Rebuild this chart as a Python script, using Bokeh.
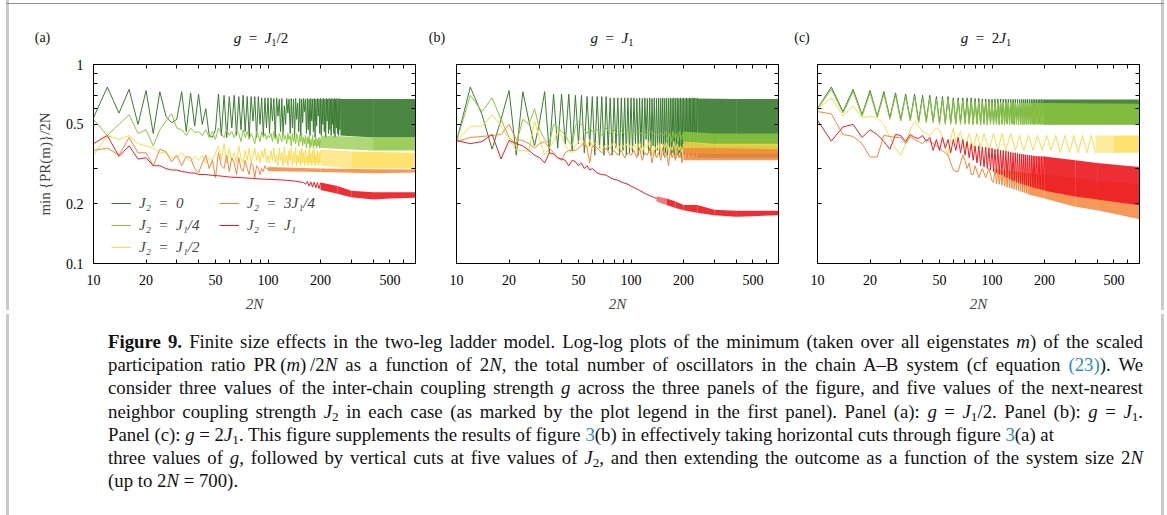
from bokeh.plotting import figure
from bokeh.models import (ColumnDataSource, FixedTicker, LogAxis, Legend,
                          LegendItem, Div, CustomJSTickFormatter)
from bokeh.layouts import row, column
from bokeh.embed import file_html
from bokeh.resources import INLINE

# ---------------------------------------------------------------- data
# x = 2N (system size), y = min{PR(m)}/2N.  Each series: a line through the
# resolved points, and a (lo, hi) envelope where the oscillation is too dense
# to resolve individually.

EVEN_10_100 = list(range(10, 101, 2))
EVEN_10_60 = list(range(10, 61, 2))
EVEN_10_80 = list(range(10, 81, 2))

# ---- panel (a): g = J1/2
A_J0_N = EVEN_10_100 + list(range(102, 261, 2))
A_J0_V = [0.54, 0.77, 0.57, 0.75, 0.50, 0.74, 0.45, 0.73, 0.55, 0.51,
          0.53, 0.73, 0.46, 0.72, 0.49, 0.71, 0.50, 0.60, 0.44, 0.43,
          0.47, 0.71, 0.44, 0.70, 0.43, 0.69, 0.48, 0.70, 0.44, 0.69,
          0.47, 0.70, 0.46, 0.69, 0.43, 0.69, 0.52, 0.69, 0.43, 0.69,
          0.50, 0.68, 0.44, 0.68, 0.48, 0.68,
          0.45, 0.68, 0.52, 0.675, 0.43, 0.68, 0.55, 0.67, 0.46, 0.675,
          0.44, 0.62, 0.50, 0.675, 0.57, 0.67, 0.45, 0.675, 0.48, 0.67,
          0.43, 0.675, 0.53, 0.64, 0.46, 0.675, 0.44, 0.67, 0.51, 0.675,
          0.58, 0.67, 0.45, 0.675, 0.47, 0.67, 0.44, 0.675, 0.52, 0.67,
          0.46, 0.675, 0.43, 0.67, 0.49, 0.675, 0.55, 0.67, 0.45, 0.675,
          0.44, 0.67, 0.50, 0.675, 0.46, 0.67, 0.43, 0.675, 0.52, 0.67,
          0.45, 0.675, 0.47, 0.67, 0.44, 0.675, 0.50, 0.67, 0.45, 0.675,
          0.43, 0.67, 0.48, 0.675, 0.45, 0.67, 0.44, 0.675, 0.47, 0.67]
A_J0_BN = [260, 400, 700]
A_J0_BLO = [0.44, 0.43, 0.43]
A_J0_BHI = [0.67, 0.67, 0.67]

A_J14_N = EVEN_10_100 + list(range(102, 201, 2))
A_J14_V = [0.53, 0.44, 0.50, 0.56, 0.45, 0.47, 0.39, 0.47, 0.52, 0.565,
           0.48, 0.47, 0.44, 0.48, 0.455, 0.46, 0.44, 0.47, 0.43, 0.46,
           0.42, 0.48, 0.45, 0.43, 0.47, 0.44, 0.46, 0.43, 0.47, 0.45,
           0.41, 0.47, 0.43, 0.46, 0.42, 0.45, 0.43, 0.40, 0.46, 0.44,
           0.41, 0.46, 0.43, 0.45, 0.42, 0.44,
           0.43, 0.45, 0.41, 0.46, 0.42, 0.44, 0.40, 0.45, 0.43, 0.41,
           0.46, 0.42, 0.44, 0.40, 0.45, 0.42, 0.44, 0.39, 0.45, 0.41,
           0.44, 0.40, 0.45, 0.42, 0.39, 0.44, 0.41, 0.45, 0.39, 0.43,
           0.40, 0.44, 0.38, 0.43, 0.40, 0.44, 0.38, 0.42, 0.39, 0.44,
           0.38, 0.42, 0.39, 0.43, 0.38, 0.42, 0.39, 0.43, 0.38, 0.42]
A_J14_BN = [200, 400, 700]
A_J14_BLO = [0.38, 0.37, 0.37]
A_J14_BHI = [0.44, 0.43, 0.43]

A_J12_N = EVEN_10_100 + list(range(102, 201, 2))
A_J12_V = [0.35, 0.44, 0.42, 0.44, 0.40, 0.39, 0.38, 0.36, 0.36, 0.34,
           0.34, 0.36, 0.34, 0.325, 0.345, 0.33, 0.35, 0.32, 0.34, 0.33,
           0.36, 0.39, 0.33, 0.40, 0.32, 0.38, 0.33, 0.36, 0.32, 0.39,
           0.34, 0.32, 0.37, 0.33, 0.38, 0.32, 0.35, 0.38, 0.33, 0.36,
           0.32, 0.37, 0.34, 0.38, 0.32, 0.35,
           0.32, 0.37, 0.33, 0.38, 0.32, 0.35, 0.31, 0.38, 0.33, 0.36,
           0.31, 0.385, 0.32, 0.35, 0.31, 0.37, 0.33, 0.38, 0.31, 0.36,
           0.32, 0.385, 0.31, 0.35, 0.32, 0.37, 0.31, 0.38, 0.32, 0.36,
           0.31, 0.375, 0.32, 0.35, 0.31, 0.38, 0.32, 0.36, 0.31, 0.37,
           0.32, 0.38, 0.31, 0.35, 0.32, 0.37, 0.31, 0.36, 0.32, 0.37]
A_J12_BN = [200, 300, 700]
A_J12_BLO = [0.31, 0.30, 0.30]
A_J12_BHI = [0.375, 0.365, 0.36]

A_J34_N = EVEN_10_100
A_J34_V = [0.37, 0.38, 0.35, 0.43, 0.36, 0.36, 0.31, 0.375, 0.365, 0.325,
           0.35, 0.31, 0.345, 0.34, 0.30, 0.285, 0.32, 0.35, 0.30, 0.33,
           0.27, 0.36, 0.31, 0.30, 0.35, 0.29, 0.34, 0.32, 0.28, 0.34,
           0.30, 0.29, 0.33, 0.30, 0.28, 0.32, 0.31, 0.27, 0.31, 0.30,
           0.28, 0.30, 0.29, 0.31, 0.30, 0.30]
A_J34_BN = [100, 200, 400, 700]
A_J34_BLO = [0.292, 0.288, 0.284, 0.287]
A_J34_BHI = [0.305, 0.300, 0.298, 0.297]

A_J1_N = (list(range(10, 41, 2)) + [44, 48, 52, 56, 60, 70, 80, 90, 100, 120, 140, 160]
          + list(range(164, 201, 4)))
A_J1_V = [0.40, 0.44, 0.345, 0.39, 0.335, 0.34, 0.31, 0.31, 0.30, 0.295,
          0.295, 0.29, 0.288, 0.285, 0.285, 0.28, 0.28, 0.277, 0.276, 0.274,
          0.272, 0.27, 0.268, 0.266, 0.265, 0.263, 0.26, 0.255,
          0.25, 0.258, 0.245, 0.257, 0.242, 0.256, 0.24, 0.255, 0.238, 0.254]
A_J1_BN = [200, 250, 300, 400, 500, 700]
A_J1_BLO = [0.234, 0.224, 0.215, 0.21, 0.212, 0.214]
A_J1_BHI = [0.255, 0.245, 0.232, 0.228, 0.228, 0.228]

# ---- panel (b): g = J1
B_J0_N = EVEN_10_100 + list(range(102, 241, 2))
B_J0_V = [0.41, 0.77, 0.56, 0.375, 0.53, 0.74, 0.35, 0.73, 0.52, 0.39,
          0.52, 0.73, 0.36, 0.71, 0.38, 0.71, 0.40, 0.71, 0.37, 0.70,
          0.40, 0.70, 0.36, 0.69, 0.39, 0.69, 0.35, 0.69, 0.38, 0.69,
          0.35, 0.69, 0.37, 0.68, 0.35, 0.68, 0.38, 0.68, 0.35, 0.68,
          0.37, 0.68, 0.35, 0.68, 0.36, 0.68,
          0.36, 0.68, 0.40, 0.675, 0.35, 0.68, 0.38, 0.675, 0.35, 0.68,
          0.42, 0.675, 0.36, 0.68, 0.35, 0.675, 0.39, 0.68, 0.35, 0.675,
          0.37, 0.68, 0.35, 0.675, 0.40, 0.68, 0.35, 0.675, 0.36, 0.68,
          0.35, 0.675, 0.38, 0.68, 0.35, 0.675, 0.36, 0.68, 0.34, 0.675,
          0.37, 0.68, 0.35, 0.675, 0.36, 0.68, 0.34, 0.675, 0.37, 0.68,
          0.35, 0.675, 0.36, 0.68, 0.34, 0.675, 0.36, 0.68, 0.35, 0.675,
          0.34, 0.68, 0.36, 0.675, 0.35, 0.68, 0.34, 0.675, 0.36, 0.68]
B_J0_BN = [240, 400, 700]
B_J0_BLO = [0.34, 0.34, 0.34]
B_J0_BHI = [0.675, 0.67, 0.67]

B_J14_N = (EVEN_10_60 + [64, 68, 72, 76, 80, 84, 88, 92, 96, 100, 110, 120, 130, 140, 150]
           + list(range(154, 199, 4)))
B_J14_V = [0.41, 0.70, 0.58, 0.68, 0.53, 0.43, 0.40, 0.53, 0.50, 0.60,
           0.47, 0.42, 0.40, 0.50, 0.48, 0.46, 0.44, 0.41, 0.39, 0.49,
           0.52, 0.50, 0.47, 0.45, 0.48, 0.46,
           0.47, 0.44, 0.48, 0.45, 0.47, 0.44, 0.46, 0.45, 0.47, 0.45,
           0.46, 0.44, 0.46, 0.44, 0.45,
           0.44, 0.46, 0.42, 0.45, 0.41, 0.46, 0.43, 0.45, 0.41, 0.46, 0.42, 0.45]
B_J14_BN = [198, 300, 700]
B_J14_BLO = [0.41, 0.39, 0.39]
B_J14_BHI = [0.46, 0.45, 0.45]

B_J12_N = EVEN_10_60 + [64, 68, 72, 76, 80, 84, 88, 92, 96, 100] + list(range(104, 201, 4))
B_J12_V = [0.41, 0.49, 0.49, 0.56, 0.49, 0.42, 0.37, 0.37, 0.365, 0.52,
           0.42, 0.35, 0.38, 0.41, 0.46, 0.44, 0.39, 0.37, 0.36, 0.39,
           0.41, 0.43, 0.40, 0.38, 0.42, 0.39,
           0.41, 0.37, 0.40, 0.38, 0.41, 0.37, 0.40, 0.38, 0.41, 0.37,
           0.40, 0.37, 0.41, 0.36, 0.40, 0.38, 0.42, 0.36, 0.39, 0.37,
           0.41, 0.36, 0.40, 0.38, 0.41, 0.36, 0.39, 0.37, 0.41, 0.36,
           0.40, 0.37, 0.39, 0.36, 0.40]
B_J12_BN = [200, 300, 700]
B_J12_BLO = [0.36, 0.355, 0.355]
B_J12_BHI = [0.41, 0.40, 0.40]

B_J34_N = EVEN_10_60 + [64, 68, 72, 76, 80, 84, 88, 92, 96, 100] + list(range(104, 201, 4))
B_J34_V = [0.41, 0.43, 0.435, 0.44, 0.445, 0.50, 0.42, 0.415, 0.40, 0.38,
           0.40, 0.41, 0.38, 0.36, 0.34, 0.33, 0.36, 0.37, 0.37, 0.37,
           0.38, 0.39, 0.41, 0.38, 0.32, 0.39,
           0.38, 0.36, 0.38, 0.35, 0.37, 0.35, 0.37, 0.34, 0.36, 0.35,
           0.37, 0.34, 0.38, 0.33, 0.36, 0.35, 0.38, 0.32, 0.37, 0.34,
           0.36, 0.33, 0.38, 0.34, 0.36, 0.31, 0.37, 0.34, 0.36, 0.33,
           0.37, 0.34, 0.36, 0.32, 0.37]
B_J34_BN = [200, 300, 700]
B_J34_BLO = [0.33, 0.33, 0.33]
B_J34_BHI = [0.38, 0.38, 0.375]

B_J1_N = EVEN_10_60 + [64, 68, 72, 76, 80, 84, 90, 96, 100, 110, 120, 130, 140]
B_J1_V = [0.415, 0.40, 0.41, 0.445, 0.335, 0.415, 0.40, 0.39, 0.37, 0.35,
          0.34, 0.32, 0.36, 0.355, 0.34, 0.335, 0.33, 0.31, 0.33, 0.325,
          0.31, 0.32, 0.30, 0.31, 0.295, 0.30,
          0.285, 0.28, 0.278, 0.27, 0.265, 0.262, 0.255, 0.25, 0.245, 0.235,
          0.225, 0.218, 0.212]
B_J1_BN = [140, 160, 180, 200, 240, 300, 400, 500, 700]
B_J1_BLO = [0.205, 0.197, 0.19, 0.185, 0.18, 0.175, 0.172, 0.173, 0.175]
B_J1_BHI = [0.218, 0.212, 0.205, 0.197, 0.197, 0.186, 0.184, 0.184, 0.184]

# ---- panel (c): g = 2 J1
C_J0_N = EVEN_10_80 + list(range(82, 201, 2))
C_J0_V = [0.60, 0.77, 0.58, 0.75, 0.56, 0.74, 0.55, 0.73, 0.54, 0.72,
          0.53, 0.71, 0.53, 0.71, 0.52, 0.70, 0.52, 0.70, 0.52, 0.69,
          0.51, 0.69, 0.51, 0.69, 0.51, 0.68, 0.51, 0.68, 0.51, 0.68,
          0.51, 0.68, 0.51, 0.68, 0.50, 0.675,
          0.505, 0.675, 0.50, 0.672, 0.505, 0.672, 0.50, 0.67, 0.505, 0.67,
          0.50, 0.67, 0.505, 0.67, 0.50, 0.67, 0.505, 0.67, 0.50, 0.67,
          0.505, 0.668, 0.50, 0.668, 0.505, 0.668, 0.50, 0.668, 0.505, 0.668,
          0.50, 0.668, 0.505, 0.668, 0.50, 0.668, 0.505, 0.668, 0.50, 0.668,
          0.505, 0.667, 0.50, 0.667, 0.505, 0.667, 0.50, 0.667, 0.505, 0.667,
          0.50, 0.667, 0.505, 0.667, 0.50, 0.667, 0.505, 0.667, 0.50, 0.667]
C_J0_BN = [200, 700]
C_J0_BLO = [0.50, 0.50]
C_J0_BHI = [0.667, 0.667]

C_J14_N = EVEN_10_80 + list(range(82, 201, 2))
C_J14_V = [0.60, 0.75, 0.57, 0.73, 0.55, 0.72, 0.54, 0.71, 0.53, 0.70,
           0.52, 0.69, 0.52, 0.69, 0.51, 0.68, 0.51, 0.68, 0.51, 0.67,
           0.50, 0.67, 0.50, 0.67, 0.50, 0.66, 0.50, 0.66, 0.50, 0.66,
           0.50, 0.65, 0.50, 0.65, 0.50, 0.65,
           0.50, 0.65, 0.50, 0.65, 0.50, 0.648, 0.50, 0.648, 0.50, 0.647,
           0.50, 0.647, 0.50, 0.646, 0.50, 0.646, 0.50, 0.645, 0.50, 0.645,
           0.50, 0.644, 0.50, 0.644, 0.50, 0.643, 0.50, 0.643, 0.50, 0.642,
           0.50, 0.642, 0.50, 0.641, 0.50, 0.641, 0.50, 0.64, 0.50, 0.64,
           0.50, 0.64, 0.50, 0.64, 0.50, 0.64, 0.50, 0.64, 0.50, 0.64,
           0.50, 0.64, 0.50, 0.64, 0.50, 0.64, 0.50, 0.64, 0.50, 0.64]
C_J14_BN = [200, 700]
C_J14_BLO = [0.50, 0.50]
C_J14_BHI = [0.64, 0.635]

C_J12_N = EVEN_10_60 + [62, 66, 70, 74, 78, 82, 86, 90, 96, 102, 108, 114, 120,
                        128, 136, 144, 152, 162, 172, 182, 194, 206, 218, 232,
                        246, 262, 278, 294, 312, 330, 350, 370, 392]
C_J12_V = [0.60, 0.68, 0.55, 0.62, 0.54, 0.55, 0.54, 0.50, 0.43, 0.38,
           0.35, 0.40, 0.47, 0.52, 0.49, 0.46, 0.45, 0.44, 0.46, 0.48,
           0.47, 0.43, 0.38, 0.35, 0.42, 0.48,
           0.41, 0.46, 0.38, 0.45, 0.38, 0.45, 0.38, 0.45, 0.37, 0.45,
           0.37, 0.45, 0.37, 0.45, 0.37, 0.44, 0.37, 0.44, 0.37, 0.44,
           0.37, 0.44, 0.37, 0.44, 0.36, 0.44, 0.36, 0.44, 0.36, 0.44,
           0.36, 0.44, 0.36]
C_J12_BN = [392, 500, 700]
C_J12_BLO = [0.36, 0.36, 0.36]
C_J12_BHI = [0.44, 0.44, 0.44]

C_J34_N = (EVEN_10_60 + [62, 64, 66, 68, 70, 72, 74, 76, 78, 80, 84, 88, 92, 96, 100]
           + list(range(102, 161, 2)))
C_J34_V = [0.58, 0.565, 0.445, 0.435, 0.40, 0.343, 0.343, 0.44, 0.435, 0.43,
           0.43, 0.40, 0.435, 0.42, 0.41, 0.40, 0.42, 0.41, 0.40, 0.39,
           0.38, 0.37, 0.36, 0.35, 0.32, 0.295,
           0.29, 0.29, 0.32, 0.35, 0.33, 0.30, 0.32, 0.28, 0.28, 0.31,
           0.27, 0.30, 0.27, 0.30, 0.26,
           0.255, 0.30, 0.252, 0.298, 0.25, 0.297, 0.247, 0.295, 0.245, 0.294,
           0.242, 0.293, 0.24, 0.292, 0.238, 0.29, 0.236, 0.29, 0.234, 0.289,
           0.232, 0.288, 0.23, 0.287, 0.228, 0.286, 0.227, 0.285, 0.225, 0.285]
C_J34_BN = [160, 200, 300, 400, 500, 700]
C_J34_BLO = [0.223, 0.212, 0.193, 0.185, 0.178, 0.167]
C_J34_BHI = [0.285, 0.28, 0.27, 0.26, 0.255, 0.25]

C_J1_N = EVEN_10_80 + list(range(82, 201, 2))
C_J1_V = [0.525, 0.412, 0.486, 0.50, 0.43, 0.47, 0.445, 0.41, 0.375, 0.445,
          0.44, 0.41, 0.445, 0.43, 0.425, 0.44, 0.41, 0.43, 0.37, 0.42,
          0.37, 0.43, 0.38, 0.42, 0.36, 0.42, 0.37, 0.43, 0.36, 0.42,
          0.35, 0.41, 0.34, 0.40, 0.33, 0.39,
          0.32, 0.39, 0.31, 0.385, 0.305, 0.385, 0.30, 0.38, 0.295, 0.38,
          0.29, 0.375, 0.285, 0.375, 0.28, 0.37, 0.278, 0.37, 0.272, 0.368,
          0.27, 0.365, 0.266, 0.363, 0.262, 0.36, 0.26, 0.36, 0.256, 0.358,
          0.254, 0.356, 0.252, 0.355, 0.25, 0.353, 0.248, 0.352, 0.246, 0.35,
          0.245, 0.35, 0.243, 0.349, 0.242, 0.348, 0.24, 0.347, 0.239, 0.346,
          0.238, 0.346, 0.237, 0.345, 0.236, 0.345, 0.235, 0.345, 0.234, 0.345]
C_J1_BN = [200, 300, 400, 700]
C_J1_BLO = [0.232, 0.217, 0.21, 0.196]
C_J1_BHI = [0.345, 0.33, 0.32, 0.305]

LEGEND_LABELS = ["J\u2082\u2002=\u20020", "J\u2082\u2002=\u2002J\u2081/4",
                 "J\u2082\u2002=\u2002J\u2081/2", "J\u2082\u2002=\u20023J\u2081/4",
                 "J\u2082\u2002=\u2002J\u2081"]

X_MAJOR = [10, 20, 50, 100, 200, 500]
X_MINOR = [30, 40, 60, 70, 80, 90, 300, 400, 600, 700]
Y_MAJOR = [0.1, 0.2, 0.5, 1.0]
Y_MINOR = [0.3, 0.6, 0.7, 0.8, 0.9]

# ---------------------------------------------------------------- styling
FONT = "Liberation Serif"
COLORS = ["#3b7d31", "#8cc63f", "#fddb4a", "#f5873b", "#ec1c24"]
BAND_ALPHA = [0.92, 0.85, 0.8, 0.85, 0.92]
# opacity of the first envelope segments, where the oscillation thickens gradually
FADE = [
    [[], [0.7], [0.6], [], []],
    [[], [], [], [], [0.6]],
    [[], [], [0.55], [], []],
]

PANEL_SERIES = [
    [(A_J0_N, A_J0_V, A_J0_BN, A_J0_BLO, A_J0_BHI),
     (A_J14_N, A_J14_V, A_J14_BN, A_J14_BLO, A_J14_BHI),
     (A_J12_N, A_J12_V, A_J12_BN, A_J12_BLO, A_J12_BHI),
     (A_J34_N, A_J34_V, A_J34_BN, A_J34_BLO, A_J34_BHI),
     (A_J1_N, A_J1_V, A_J1_BN, A_J1_BLO, A_J1_BHI)],
    [(B_J0_N, B_J0_V, B_J0_BN, B_J0_BLO, B_J0_BHI),
     (B_J14_N, B_J14_V, B_J14_BN, B_J14_BLO, B_J14_BHI),
     (B_J12_N, B_J12_V, B_J12_BN, B_J12_BLO, B_J12_BHI),
     (B_J34_N, B_J34_V, B_J34_BN, B_J34_BLO, B_J34_BHI),
     (B_J1_N, B_J1_V, B_J1_BN, B_J1_BLO, B_J1_BHI)],
    [(C_J0_N, C_J0_V, C_J0_BN, C_J0_BLO, C_J0_BHI),
     (C_J14_N, C_J14_V, C_J14_BN, C_J14_BLO, C_J14_BHI),
     (C_J12_N, C_J12_V, C_J12_BN, C_J12_BLO, C_J12_BHI),
     (C_J34_N, C_J34_V, C_J34_BN, C_J34_BLO, C_J34_BHI),
     (C_J1_N, C_J1_V, C_J1_BN, C_J1_BLO, C_J1_BHI)],
]

BORDERS = [(84, 20), (21, 19), (20, 21)]

fmt_num = CustomJSTickFormatter(code="return tick.toString();")
fmt_none = CustomJSTickFormatter(code="return '';")


def style_axis(ax, show_labels):
    ax.major_tick_in = 4
    ax.major_tick_out = 0
    ax.minor_tick_in = 4
    ax.minor_tick_out = 0
    ax.major_tick_line_color = "black"
    ax.minor_tick_line_color = "black"
    ax.axis_line_color = "black"
    if show_labels:
        ax.formatter = fmt_num
        ax.major_label_text_font = FONT
        ax.major_label_text_font_size = "14px"
        ax.major_label_text_color = "black"
        ax.major_label_standoff = 10
    else:
        ax.formatter = fmt_none
        ax.major_label_text_color = None
        ax.major_label_text_font_size = "1px"
        ax.major_label_standoff = 0


def make_panel(i):
    bl, br = BORDERS[i]
    p = figure(frame_width=322, frame_height=199,
               x_axis_type="log", y_axis_type="log",
               x_range=(10, 700), y_range=(0.1, 1),
               output_backend="svg", toolbar_location=None,
               min_border_left=bl, min_border_right=br,
               min_border_top=12, min_border_bottom=47,
               background_fill_color="white", border_fill_color="white")
    p.grid.visible = False
    p.outline_line_color = "black"

    xt = FixedTicker(ticks=X_MAJOR, minor_ticks=X_MINOR)
    yt = FixedTicker(ticks=Y_MAJOR, minor_ticks=Y_MINOR)
    p.xaxis.ticker = xt
    p.yaxis.ticker = yt
    style_axis(p.xaxis[0], True)
    style_axis(p.yaxis[0], i == 0)
    p.xaxis.major_label_standoff = 11
    p.xaxis.axis_label = "2N"
    p.xaxis.axis_label_text_font = FONT
    p.xaxis.axis_label_text_font_size = "15px"
    p.xaxis.axis_label_text_font_style = "italic"
    p.xaxis.axis_label_standoff = 8
    if i == 0:
        p.yaxis.axis_label = "min\u2009{PR(m)}/2N"
        p.yaxis.axis_label_text_font = FONT
        p.yaxis.axis_label_text_font_size = "15px"
        p.yaxis.axis_label_text_font_style = "normal"
        p.yaxis.axis_label_standoff = 10

    top = LogAxis(ticker=xt)
    right = LogAxis(ticker=yt)
    style_axis(top, False)
    style_axis(right, False)
    p.add_layout(top, "above")
    p.add_layout(right, "right")

    lines = []
    for k, (n, v, bn, blo, bhi) in enumerate(PANEL_SERIES[i]):
        fade = FADE[i][k]
        for s in range(len(bn) - 1):
            seg = ColumnDataSource(dict(x=bn[s:s + 2], lo=blo[s:s + 2], hi=bhi[s:s + 2]))
            alpha = fade[s] if s < len(fade) else BAND_ALPHA[k]
            p.varea(x="x", y1="lo", y2="hi", source=seg,
                    fill_color=COLORS[k], fill_alpha=alpha)
        src = ColumnDataSource(dict(x=n, y=v))
        r = p.line(x="x", y="y", source=src, line_color=COLORS[k], line_width=1)
        lines.append(r)

    if i == 0:
        legend = Legend(items=[LegendItem(label=LEGEND_LABELS[k], renderers=[lines[k]])
                               for k in range(5)],
                        location=(18, 6), orientation="vertical", nrows=3,
                        glyph_width=20, glyph_height=20, label_height=20,
                        label_width=78, label_standoff=8, spacing=2,
                        padding=0, margin=0, border_line_alpha=0,
                        background_fill_alpha=0,
                        label_text_font=FONT, label_text_font_style="italic",
                        label_text_font_size="15px")
        p.add_layout(legend)
    return p


panels = [make_panel(i) for i in range(3)]

# ---------------------------------------------------------------- page frame, headings, caption
EDGE = "#cbcbcb"
BLUE = "#2a8cc8"
SUB = '<sub style="font-size:0.7em;vertical-align:-0.25em;line-height:0">'

HEADINGS = [  # (centre x, html)
    (42.5, "(a)"), (261, f"<i>g</i>\u2002=\u2002<i>J</i>{SUB}1</sub>/2"),
    (437, "(b)"), (612, f"<i>g</i>\u2002=\u2002<i>J</i>{SUB}1</sub>"),
    (802, "(c)"), (986, f"<i>g</i>\u2002=\u20022<i>J</i>{SUB}1</sub>"),
]
head = ['<div style="position:relative;width:1167px;height:52px;'
        f'font-family:\'{FONT}\';color:#111">',
        # top rule of the page frame, pinned to the window
        '<div style="position:fixed;left:6px;top:3px;width:1158px;height:1px;'
        'background:#8f8f8f;z-index:20"></div>',
        f'<div style="position:absolute;left:6px;top:0;width:3px;height:52px;background:{EDGE}"></div>',
        f'<div style="position:absolute;left:1161px;top:0;width:3px;height:52px;background:{EDGE}"></div>']
for cx, html in HEADINGS:
    size = 14 if html.startswith("(") else 15
    head.append(f'<div style="position:absolute;left:{cx}px;top:30px;transform:translateX(-50%);'
                f'font-size:{size}px;line-height:16px;white-space:nowrap">{html}</div>')
head.append("</div>")
header = Div(width=1167, height=52, margin=0, text="".join(head))

left_bar = Div(width=9, height=258, margin=0,
               text='<div style="position:relative;width:9px;height:258px">'
                    f'<div style="position:absolute;left:6px;top:0;width:3px;height:258px;background:{EDGE}"></div></div>')
right_bar = Div(width=7, height=258, margin=0,
                text='<div style="position:relative;width:7px;height:258px">'
                     f'<div style="position:absolute;left:1px;top:0;width:3px;height:258px;background:{EDGE}"></div></div>')

CAPTION_LINES = [
    ("<b>Figure 9.</b> Finite size effects in the two-leg ladder model. Log-log plots of the "
     "minimum (taken over all eigenstates <i>m</i>) of the scaled", 1035),
    ("participation ratio PR\u2009(<i>m</i>)\u2009/2<i>N</i> as a function of 2<i>N</i>, the total "
     "number of oscillators in the chain A\u2013B system (cf equation "
     f'<span style="color:{BLUE}">(23)</span>). We', 1035),
    ("consider three values of the inter-chain coupling strength <i>g</i> across the three "
     "panels of the figure, and five values of the next-nearest", 1035),
    (f"neighbor coupling strength <i>J</i>{SUB}2</sub> in each case (as marked by the plot "
     f"legend in the first panel). Panel (a): <i>g</i> = <i>J</i>{SUB}1</sub>/2. Panel (b): "
     f"<i>g</i> = <i>J</i>{SUB}1</sub>.", 1035),
    (f"Panel (c): <i>g</i> = 2<i>J</i>{SUB}1</sub>. This figure supplements the results of "
     f'figure <span style="color:{BLUE}">3</span>(b) in effectively taking horizontal cuts '
     f'through figure <span style="color:{BLUE}">3</span>(a) at', 935),
    (f"three values of <i>g</i>, followed by vertical cuts at five values of <i>J</i>{SUB}2</sub>, "
     "and then extending the outcome as a function of the system size 2<i>N</i>", 1035),
    ("(up to 2<i>N</i> = 700).", 0),
]
parts = ['<div style="position:relative;width:1167px;height:205px;'
         f'font-family:\'{FONT}\';font-size:18.8px;line-height:23px;color:#111">',
         f'<div style="position:absolute;left:6px;top:0;width:3px;height:205px;background:{EDGE}"></div>',
         f'<div style="position:absolute;left:1161px;top:0;width:3px;height:205px;background:{EDGE}"></div>']
for j, (html, w) in enumerate(CAPTION_LINES):
    top = 16 + round(j * 23.2, 1)
    if w:
        style = (f"position:absolute;left:108px;top:{top}px;width:{w}px;white-space:nowrap;"
                 "text-align:justify;text-align-last:justify")
    else:
        style = f"position:absolute;left:108px;top:{top}px;white-space:nowrap"
    parts.append(f'<div style="{style}">{html}</div>')
parts.append("</div>")
caption = Div(width=1167, height=205, margin=0, text="".join(parts))

layout = column(header,
                row(left_bar, *panels, right_bar, spacing=0),
                caption, spacing=0)

open("out.html", "w").write(file_html(layout, INLINE, title="Figure 9"))
